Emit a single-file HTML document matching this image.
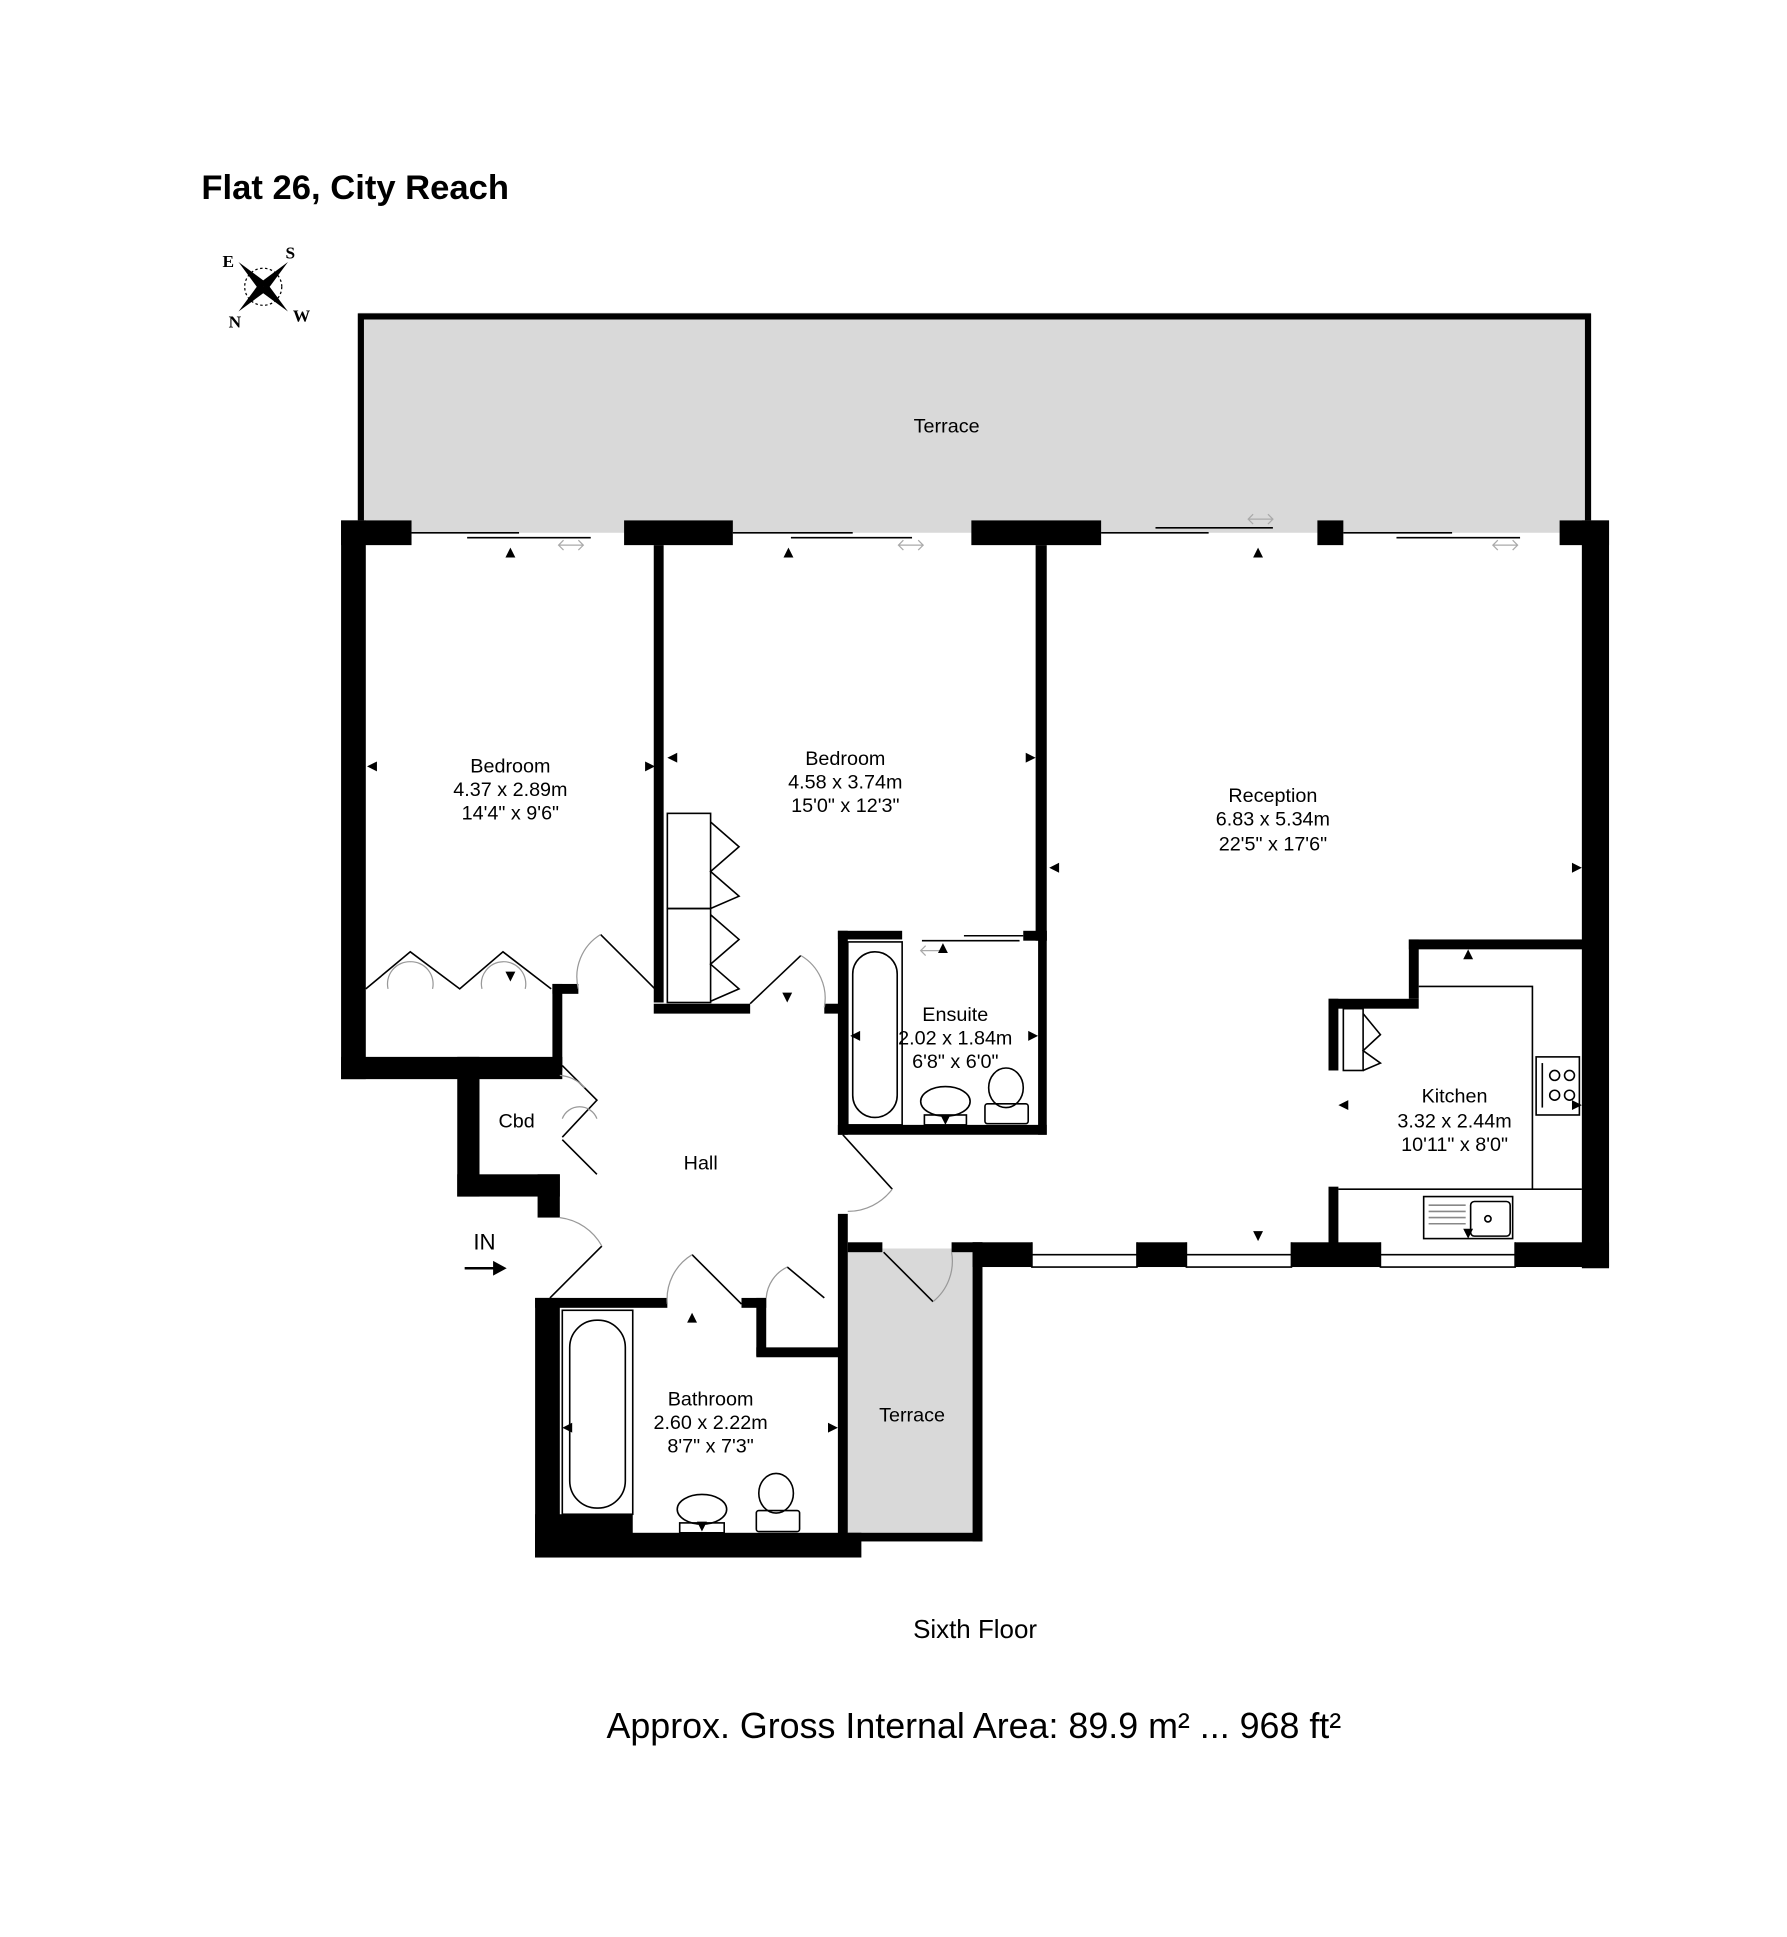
<!DOCTYPE html>
<html><head><meta charset="utf-8"><style>
html,body{margin:0;padding:0;background:#fff}
svg{display:block}
text{font-family:"Liberation Sans",Arial,sans-serif;fill:#000}
.l{font-size:16px;text-anchor:middle}
</style></head><body>
<svg width="1787" height="1937" viewBox="0 0 1446 1567" preserveAspectRatio="none" xmlns="http://www.w3.org/2000/svg">
<rect width="1446" height="1567" fill="#fff"/>
<text x="163" y="161" font-size="28" font-weight="bold">Flat 26, City Reach</text>
<g transform="translate(213,232)">
<circle r="15" fill="none" stroke="#000" stroke-width="1" stroke-dasharray="2 2"/>
<polygon points="-20,-20 3,-3 0,0 -3,3" fill="#000"/>
<polygon points="20,20 -3,3 0,0 3,-3" fill="#000"/>
<polygon points="20,-20 3,3 0,0 -3,-3" fill="#000"/>
<polygon points="-20,20 -3,-3 0,0 3,3" fill="#000"/>
</g>
<g font-weight="bold" font-size="14">
<text x="180" y="216" style="font-family:'Liberation Serif',serif">E</text>
<text x="231" y="209" style="font-family:'Liberation Serif',serif">S</text>
<text x="185" y="265" style="font-family:'Liberation Serif',serif">N</text>
<text x="237" y="260" style="font-family:'Liberation Serif',serif">W</text>
</g>
<rect x="290" y="253" width="997" height="178" fill="#d9d9d9"/>
<path d="M292,421 V256 H1285 V421" fill="none" stroke="#000" stroke-width="5"/>
<text x="766" y="350" font-size="16" text-anchor="middle">Terrace</text>
<rect x="686" y="1010" width="103" height="231" fill="#d9d9d9"/>
<g fill="#000">
<rect x="276" y="421" width="57" height="20"/>
<rect x="505" y="421" width="88" height="20"/>
<rect x="786" y="421" width="105" height="20"/>
<rect x="1066" y="421" width="21" height="20"/>
<rect x="1262" y="421" width="40" height="20"/>
<rect x="276" y="421" width="20" height="452"/>
<rect x="276" y="855" width="179" height="18"/>
<rect x="447" y="796" width="8" height="70"/>
<rect x="447" y="796" width="21" height="8"/>
<rect x="370" y="855" width="18" height="113"/>
<rect x="370" y="950" width="83" height="18"/>
<rect x="435" y="950" width="18" height="35"/>
<rect x="529" y="441" width="8" height="370"/>
<rect x="529" y="812" width="78" height="8"/>
<rect x="838" y="441" width="9" height="320"/>
<rect x="828" y="753" width="19" height="8"/>
<rect x="678" y="753" width="52" height="7"/>
<rect x="678" y="753" width="8" height="165"/>
<rect x="667" y="812" width="19" height="8"/>
<rect x="678" y="910" width="169" height="8"/>
<rect x="840" y="753" width="7" height="165"/>
<rect x="1280" y="421" width="22" height="605"/>
<rect x="787" y="1005" width="48" height="20"/>
<rect x="920" y="1005" width="40" height="20"/>
<rect x="1045" y="1005" width="72" height="20"/>
<rect x="1226" y="1005" width="76" height="20"/>
<rect x="1140" y="760" width="142" height="8"/>
<rect x="1140" y="760" width="8" height="48"/>
<rect x="1075" y="808" width="73" height="8"/>
<rect x="1075" y="808" width="8" height="58"/>
<rect x="1075" y="960" width="8" height="50"/>
<rect x="678" y="982" width="8" height="263"/>
<rect x="686" y="1005" width="28" height="8"/>
<rect x="770" y="1005" width="25" height="8"/>
<rect x="787" y="1005" width="8" height="242"/>
<rect x="686" y="1240" width="109" height="7"/>
<rect x="433" y="1050" width="20" height="210"/>
<rect x="433" y="1050" width="107" height="8"/>
<rect x="600" y="1050" width="20" height="8"/>
<rect x="612" y="1050" width="8" height="47"/>
<rect x="612" y="1090" width="70" height="8"/>
<rect x="433" y="1225" width="79" height="35"/>
<rect x="433" y="1240" width="264" height="20"/>
</g>
<g stroke="#000" stroke-width="1.3" fill="none">
<path d="M333,431H420M378,435H478M593,431H690M640,435H738M891,431H978M935,427H1030M1087,431H1175M1130,435H1230"/>
<path d="M835,1005V1025H920V1005M835,1015H920M960,1005V1025H1045V1005M960,1015H1045M1117,1005V1025H1226V1005M1117,1015H1226"/>
<path d="M746,761H825M780,757H828"/>
<path d="M682,1010V1040M682,1125V1160"/>
<path d="M1148,798H1240V962H1083M1240,962H1280"/>
<rect x="1243" y="855" width="35" height="47"/>
<circle cx="1258" cy="870" r="4"/><circle cx="1270" cy="870" r="4"/><circle cx="1258" cy="886" r="4"/><circle cx="1270" cy="886" r="4"/>
<path d="M1248,860V896"/>
<rect x="1152" y="968" width="72" height="34"/>
<rect x="1190" y="972" width="32" height="28" rx="3"/>
<path d="M1156,975H1186M1156,980H1186M1156,985H1186M1156,990H1186" stroke="#888"/>
<circle cx="1204" cy="986" r="2.5"/>
<rect x="1087" y="816" width="16" height="50"/>
<path d="M1103,820L1117,837L1103,850L1117,860L1103,866" />
<rect x="540" y="658" width="35" height="77"/>
<rect x="540" y="735" width="35" height="76"/>
<path d="M575,665L598,685L575,705L598,725L575,735M575,740L598,760L575,780L598,800L575,810"/>
<path d="M296,800L332,770L372,800L407,770L446,800"/>
<path d="M530,800L486,756M607,812L648,773M455,862L483,890L455,920M455,922L483,950M445,1050L487,1008M560,1015L600,1055M637,1025L667,1050M682,918L722,962M715,1013L755,1053"/>
<rect x="686" y="762" width="44" height="148"/>
<rect x="690" y="770" width="36" height="134" rx="18"/>
<rect x="455" y="1060" width="57" height="165"/>
<rect x="461" y="1068" width="45" height="152" rx="22"/>
<ellipse cx="765" cy="891" rx="20" ry="12"/>
<rect x="748" y="902" width="34" height="8"/>
<ellipse cx="814" cy="880" rx="14" ry="16"/>
<rect x="797" y="893" width="35" height="16" rx="2"/>
<ellipse cx="568" cy="1221" rx="20" ry="12"/>
<rect x="550" y="1232" width="36" height="8"/>
<ellipse cx="628" cy="1208" rx="14" ry="16"/>
<rect x="612" y="1222" width="35" height="17" rx="2"/>
</g>
<g stroke="#999" stroke-width="1" fill="none">
<path d="M468,800A40,40 0 0 1 486,756M667,815A40,40 0 0 0 648,773M453,985A45,45 0 0 1 487,1008M540,1055A42,42 0 0 1 560,1015M620,1050A30,30 0 0 1 637,1025M722,962A45,45 0 0 1 686,980M770,1013A42,42 0 0 1 755,1053"/>
<path d="M314,800A18,18 0 0 1 332,778M350,800A18,18 0 0 0 332,778M390,800A18,18 0 0 1 407,778M425,800A18,18 0 0 0 407,778"/>
<path d="M453,870A30,30 0 0 1 473,880M455,905A15,15 0 0 1 483,905"/>
</g>
<g stroke="#aaa" fill="none" stroke-width="1">
<path d="M452,441H472M456,437L452,441L456,445M468,437L472,441L468,445M727,441H747M731,437L727,441L731,445M743,437L747,441L743,445M1010,420H1030M1014,416L1010,420L1014,424M1026,416L1030,420L1026,424M1208,441H1228M1212,437L1208,441L1212,445M1224,437L1228,441L1224,445M745,769H765M749,765L745,769L749,773"/>
</g>
<g fill="#000">
<polygon points="413,443 409,451 417,451"/><polygon points="638,443 634,451 642,451"/><polygon points="1018,443 1014,451 1022,451"/>
<polygon points="297,620 305,616 305,624"/><polygon points="530,620 522,616 522,624"/>
<polygon points="540,613 548,609 548,617"/><polygon points="838,613 830,609 830,617"/>
<polygon points="849,702 857,698 857,706"/><polygon points="1280,702 1272,698 1272,706"/>
<polygon points="413,794 409,786 417,786"/><polygon points="637,811 633,803 641,803"/>
<polygon points="763,763 759,771 767,771"/>
<polygon points="688,838 696,834 696,842"/><polygon points="840,838 832,834 832,842"/>
<polygon points="1188,768 1184,776 1192,776"/><polygon points="1083,894 1091,890 1091,898"/>
<polygon points="1280,894 1272,890 1272,898"/><polygon points="1018,1004 1014,996 1022,996"/>
<polygon points="1188,1002 1184,994 1192,994"/><polygon points="560,1062 556,1070 564,1070"/>
<polygon points="455,1155 463,1151 463,1159"/><polygon points="678,1155 670,1151 670,1159"/>
<polygon points="765,910 761,902 769,902"/><polygon points="568,1239 564,1231 572,1231"/>
</g>
<text class="l" x="413" y="625">Bedroom</text><text class="l" x="413" y="644">4.37 x 2.89m</text><text class="l" x="413" y="663">14'4" x 9'6"</text>
<text class="l" x="684" y="619">Bedroom</text><text class="l" x="684" y="638">4.58 x 3.74m</text><text class="l" x="684" y="657">15'0" x 12'3"</text>
<text class="l" x="1030" y="649">Reception</text><text class="l" x="1030" y="668">6.83 x 5.34m</text><text class="l" x="1030" y="688">22'5" x 17'6"</text>
<text class="l" x="773" y="826">Ensuite</text><text class="l" x="773" y="845">2.02 x 1.84m</text><text class="l" x="773" y="864">6'8" x 6'0"</text>
<text class="l" x="1177" y="892">Kitchen</text><text class="l" x="1177" y="912">3.32 x 2.44m</text><text class="l" x="1177" y="931">10'11" x 8'0"</text>
<text class="l" x="418" y="912">Cbd</text>
<text class="l" x="567" y="946">Hall</text>
<text class="l" x="575" y="1137">Bathroom</text><text class="l" x="575" y="1156">2.60 x 2.22m</text><text class="l" x="575" y="1175">8'7" x 7'3"</text>
<text class="l" x="738" y="1150">Terrace</text>
<text x="392" y="1011" font-size="18" text-anchor="middle">IN</text>
<path d="M376,1026H402" stroke="#000" stroke-width="2"/><polygon points="410,1026 399,1020 399,1032" fill="#000"/>
<text x="789" y="1325" font-size="21" text-anchor="middle">Sixth Floor</text>
<text x="788" y="1406" font-size="29" text-anchor="middle">Approx. Gross Internal Area: 89.9 m² ... 968 ft²</text>
</svg>
</body></html>
